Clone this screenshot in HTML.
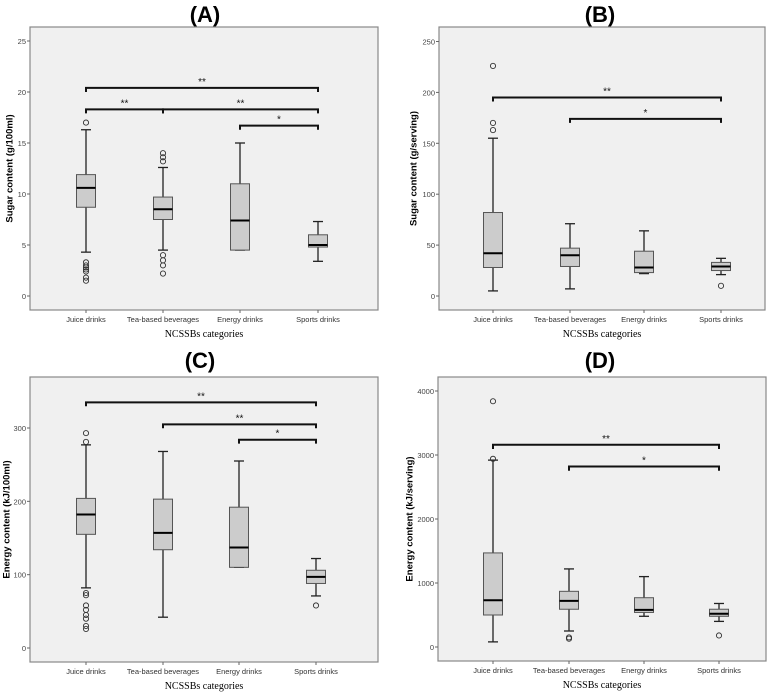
<!DOCTYPE html>
<html><head><meta charset="utf-8"><style>
body{margin:0;background:#fff;width:778px;height:693px;overflow:hidden}
svg{display:block}
</style></head><body>
<svg id="chart" width="778" height="693" xmlns="http://www.w3.org/2000/svg" font-family="Liberation Sans, sans-serif"></svg>
<script>
const categories = ["Juice drinks","Tea-based beverages","Energy drinks","Sports drinks"];
// [whiskerLow, q1, median, q3, whiskerHigh]
const boxesA = [[4.3,8.7,10.6,11.9,16.3],[4.5,7.5,8.5,9.7,12.6],[4.5,4.5,7.4,11.0,15.0],[3.4,4.8,5.0,6.0,7.3]];
const outliersA = [[17,3.3,3.0,2.8,2.6,2.4,1.8,1.5],[14,13.6,13.2,4.0,3.5,3.0,2.2],[],[]];
const bracketsA = [[0,3,20.4,"**"],[0,1,18.3,"**"],[1,3,18.3,"**"],[2,3,16.7,"*"]];
const ticksA = [0,5,10,15,20,25];
const boxesB = [[5,28,42,82,155],[7,29,40,47,71],[22,23,28,44,64],[21,25,29,33,37]];
const outliersB = [[226,170,163],[],[],[10]];
const bracketsB = [[0,3,195,"**"],[1,3,174,"*"]];
const ticksB = [0,50,100,150,200,250];
const boxesC = [[82,155,182,204,277],[42,134,157,203,268],[110,110,137,192,255],[71,88,97,106,122]];
const outliersC = [[293,281,75,72,58,52,45,40,30,26],[],[],[58]];
const bracketsC = [[0,3,335,"**"],[1,3,305,"**"],[2,3,284,"*"]];
const ticksC = [0,100,200,300];
const boxesD = [[80,500,730,1470,2920],[250,590,720,870,1220],[480,540,580,770,1100],[400,480,520,590,680]];
const outliersD = [[3840,2940],[150,130],[],[180]];
const bracketsD = [[0,3,3160,"**"],[1,3,2820,"*"]];
const ticksD = [0,1000,2000,3000,4000];

const svg = document.getElementById('chart');
const NS = "http://www.w3.org/2000/svg";
function mk(tag, attrs, parent){const e=document.createElementNS(NS,tag);for(const k in attrs)e.setAttribute(k,attrs[k]);(parent||svg).appendChild(e);return e;}

const panels = [
 {id:"a",title:"(A)",fx0:30,fx1:378,fy0:27,fy1:310,tx:205,ty:22,v0:0,y0:296,v1:25,y1:41,cx:[86,163,240,318],ytitle:"Sugar content (g/100ml)",ytx:10,boxes:boxesA,outs:outliersA,br:bracketsA,ticks:ticksA,dv:0.3},
 {id:"b",title:"(B)",fx0:439,fx1:765,fy0:27,fy1:310,tx:600,ty:22,v0:0,y0:296,v1:250,y1:41.5,cx:[493,570,644,721],ytitle:"Sugar content (g/serving)",ytx:414,boxes:boxesB,outs:outliersB,br:bracketsB,ticks:ticksB,dv:3},
 {id:"c",title:"(C)",fx0:30,fx1:378,fy0:377,fy1:662,tx:200,ty:368,v0:0,y0:648,v1:300,y1:428,cx:[86,163,239,316],ytitle:"Energy content (kJ/100ml)",ytx:7,boxes:boxesC,outs:outliersC,br:bracketsC,ticks:ticksC,dv:4},
 {id:"d",title:"(D)",fx0:438,fx1:766,fy0:377,fy1:661,tx:600,ty:368,v0:0,y0:647,v1:4000,y1:391,cx:[493,569,644,719],ytitle:"Energy content (kJ/serving)",ytx:410,boxes:boxesD,outs:outliersD,br:bracketsD,ticks:ticksD,dv:50}
];

panels.forEach(p=>{
 const g = mk('g',{});
 
 
 const y = v => p.y0 + (v-p.v0)*(p.y1-p.y0)/(p.v1-p.v0);
 const t = mk('text',{x:p.tx,y:p.ty,'text-anchor':'middle','font-size':22,'font-weight':'bold',fill:'#000'},g);
 t.textContent=p.title;
 
 
 const fr = mk('rect',{x:p.fx0,y:p.fy0,width:p.fx1-p.fx0,height:p.fy1-p.fy0,fill:'#f0f0f0',stroke:'#888','stroke-width':1.2},g);
 
 
 p.ticks.forEach(v=>{
  mk('line',{x1:p.fx0-3,x2:p.fx0,y1:y(v),y2:y(v),stroke:'#666'},g);
  const tl = mk('text',{x:p.fx0-4,y:y(v)+3,'text-anchor':'end','font-size':7.5,fill:'#444'},g);
  tl.textContent=v;
  
  
 });
 categories.forEach((c,i)=>{
  mk('line',{x1:p.cx[i],x2:p.cx[i],y1:p.fy1,y2:p.fy1+3,stroke:'#666'},g);
  const cl = mk('text',{x:p.cx[i],y:p.fy1+12,'text-anchor':'middle','font-size':7.5,fill:'#333'},g);
  cl.textContent=c;
  
  
 });
 const xt = mk('text',{x:(p.fx0+p.fx1)/2,y:p.fy1+27,'text-anchor':'middle','font-size':10,'font-family':'Liberation Serif, serif',fill:'#000'},g);
 xt.textContent="NCSSBs categories";
 
 
 const ym=(p.fy0+p.fy1)/2;
 const yt = mk('text',{x:p.ytx,y:ym,'text-anchor':'middle','font-size':9.5,'font-weight':'bold',fill:'#000',transform:`rotate(-90 ${p.ytx} ${ym})`,'dominant-baseline':'middle'},g);
 yt.textContent=p.ytitle;
 
 
 p.boxes.forEach((b,i)=>{
  const x=p.cx[i], w=9.5;
  const bg = mk('g',{},g);
  
  
  mk('line',{x1:x,x2:x,y1:y(b[0]),y2:y(b[4]),stroke:'#222','stroke-width':1.3},bg);
  mk('line',{x1:x-5,x2:x+5,y1:y(b[0]),y2:y(b[0]),stroke:'#222','stroke-width':1.3},bg);
  mk('line',{x1:x-5,x2:x+5,y1:y(b[4]),y2:y(b[4]),stroke:'#222','stroke-width':1.3},bg);
  mk('rect',{x:x-w,y:y(b[3]),width:2*w,height:Math.max(0.5,y(b[1])-y(b[3])),fill:'#cccccc',stroke:'#555','stroke-width':1},bg);
  mk('line',{x1:x-w,x2:x+w,y1:y(b[2]),y2:y(b[2]),stroke:'#000','stroke-width':2},bg);
  p.outs[i].forEach(o=>{
   const c = mk('circle',{cx:x,cy:y(o),r:2.6,fill:'none',stroke:'#333','stroke-width':0.9},bg);
   
   
  });
 });
 p.br.forEach(br=>{
  const xa=p.cx[br[0]], xb=p.cx[br[1]], yy=y(br[2]), yd=y(br[2]-p.dv*1);
  const pg = mk('g',{},g);
  
  
  mk('path',{d:`M${xa} ${yd+1}V${yy}H${xb}V${yd+1}`,fill:'none',stroke:'#111','stroke-width':2},pg);
  const st = mk('text',{x:(xa+xb)/2,y:yy-3,'text-anchor':'middle','font-size':10,fill:'#111'},pg);
  st.textContent=br[3];
 });
});
</script>
</body></html>
